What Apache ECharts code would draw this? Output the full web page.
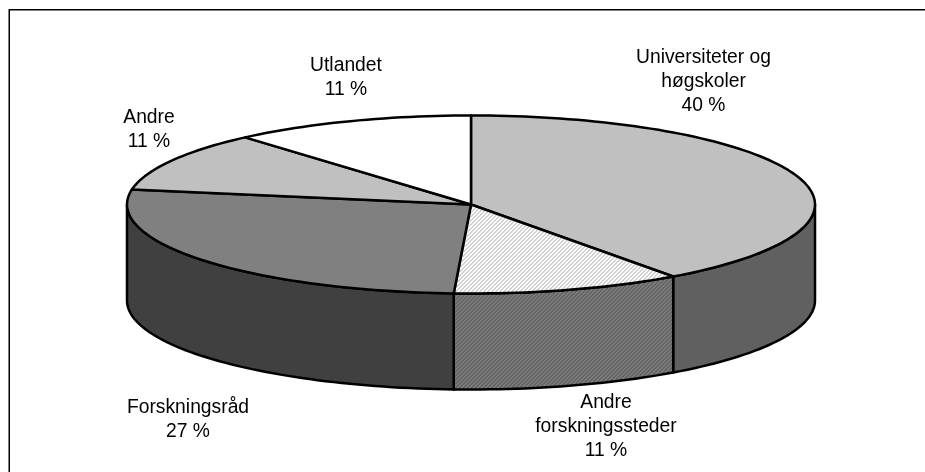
<!DOCTYPE html>
<html>
<head>
<meta charset="utf-8">
<style>
  html, body { margin: 0; padding: 0; background: #fff; }
  #chart { width: 925px; height: 472px; }
</style>
<script src="https://cdn.jsdelivr.net/npm/echarts@6/dist/echarts.min.js"></script>
</head>
<body>
<div id="chart"></div>
<script>
// data, clockwise from 12 o'clock
// (slices are measured off the drawing, labels show them rounded)
var categories = ['Universiteter og\nhøgskoler', 'Andre\nforskningssteder', 'Forskningsråd', 'Andre', 'Utlandet'];
var shares = [40, 10.8, 26.9, 10.9, 11.4];

// styles, same order as above
var topColors = ['#c0c0c0', 'hatchLight', '#808080', '#c0c0c0', '#ffffff'];
var sideColors = ['#606060', 'hatchDark', '#404040', '#606060', '#808080'];

// pie geometry
var cx = 471, cy = 204.5, rx = 344, ry = 89, depth = 96;
var labelPlaces = [[703.5, 82], [606, 427], [188, 420], [149, 130], [346, 78]];

function hatch(bg, fg) {
  var size = 4;
  var c = document.createElement('canvas');
  c.width = c.height = size;
  var ctx = c.getContext('2d');
  ctx.fillStyle = bg;
  ctx.fillRect(0, 0, size, size);
  ctx.fillStyle = fg;
  for (var i = 0; i < size; i++) {
    ctx.fillRect((size - 1 - i), i, 1, 1);
    ctx.fillRect((size * 2 - 2 - i) % size, i, 1, 1);
  }
  return { image: c, repeat: 'repeat' };
}
var fills = {
  hatchLight: hatch('#ffffff', '#d0d0d0'),
  hatchDark: hatch('#7c7c7c', '#646464')
};
function fillOf(name) { return fills[name] || name; }

var total = shares.reduce(function (a, b) { return a + b; }, 0);

// point on the rim, deg counted clockwise from the top
function rim(deg, dy) {
  var a = deg * Math.PI / 180;
  return [cx + rx * Math.sin(a), cy - ry * Math.cos(a) + (dy || 0)];
}
function arc(from, to, dy) {
  var pts = [];
  var n = Math.max(2, Math.ceil(Math.abs(to - from) / 1.5));
  for (var i = 0; i <= n; i++) {
    pts.push(rim(from + (to - from) * i / n, dy));
  }
  return pts;
}

function renderSlice(params, api) {
  var i = params.dataIndex;
  var before = 0;
  for (var k = 0; k < i; k++) before += shares[k];
  var start = before / total * 360;
  var end = start + api.value(0) / total * 360;
  var children = [];

  // front wall only shows between 90 and 270 degrees
  var s = Math.max(start, 90), e = Math.min(end, 270);
  if (e > s) {
    children.push({
      type: 'polygon',
      z2: 1,
      shape: { points: arc(s, e, 0).concat(arc(e, s, depth)) },
      style: { fill: fillOf(sideColors[i]), stroke: '#000', lineWidth: 2.5, lineJoin: 'round' }
    });
  }
  children.push({
    type: 'polygon',
    z2: 2,
    shape: { points: [[cx, cy]].concat(arc(start, end, 0)) },
    style: { fill: fillOf(topColors[i]), stroke: '#000', lineWidth: 2.5, lineJoin: 'round' }
  });
  children.push({
    type: 'text',
    z2: 3,
    x: labelPlaces[i][0],
    y: labelPlaces[i][1],
    style: {
      text: categories[i] + '\n' + Math.round(api.value(0)) + ' %',
      fill: '#000',
      font: '19.3px "Liberation Sans", Arial, sans-serif',
      lineHeight: 24,
      align: 'center',
      verticalAlign: 'middle'
    }
  });
  return { type: 'group', children: children };
}

var chart = echarts.init(document.getElementById('chart'), null, { renderer: 'canvas' });
chart.setOption({
  animation: false,
  backgroundColor: '#ffffff',
  graphic: [
    { type: 'line', shape: { x1: 9, y1: 9.75, x2: 925, y2: 9.75 }, style: { stroke: '#000', lineWidth: 1.5 }, silent: true },
    { type: 'line', shape: { x1: 9.25, y1: 9, x2: 9.25, y2: 472 }, style: { stroke: '#000', lineWidth: 1.5 }, silent: true }
  ],
  series: [{
    type: 'custom',
    coordinateSystem: 'none',
    silent: true,
    clip: false,
    renderItem: renderSlice,
    data: shares.map(function (v) { return [v]; })
  }]
});
</script>
</body>
</html>
